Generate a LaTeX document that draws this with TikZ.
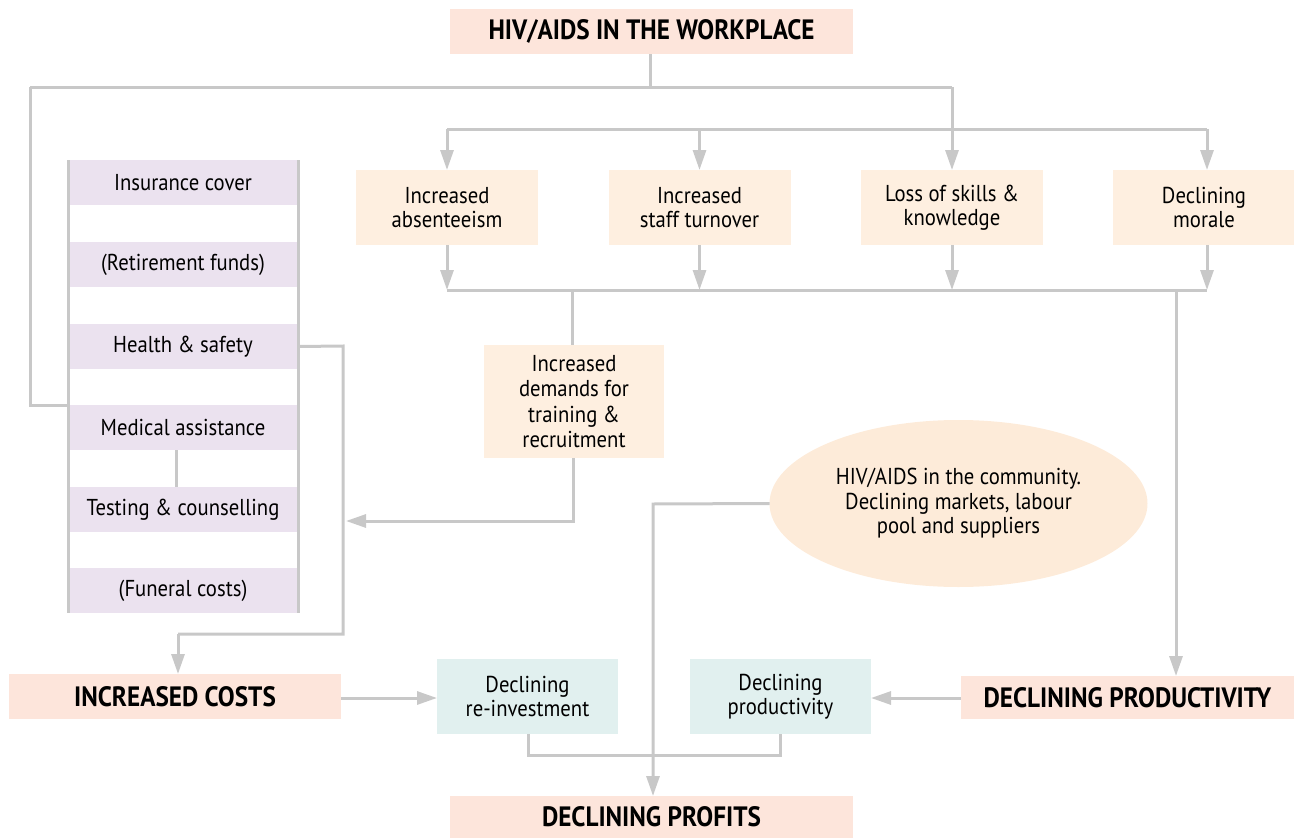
\documentclass[tikz,border=0pt]{standalone}
\usepackage{fontspec}
\setmainfont{PT Sans}[FakeStretch=0.9]
\usetikzlibrary{arrows.meta,shapes.geometric}
\definecolor{ttl}{HTML}{FDE5DB}
\definecolor{org}{HTML}{FEEFE0}
\definecolor{pur}{HTML}{EBE2EF}
\definecolor{teal}{HTML}{E1F0EF}
\definecolor{ell}{HTML}{FDEBD9}
\definecolor{ln}{HTML}{C8C8C8}
\tikzset{
  every node/.style={inner sep=0pt, outer sep=0pt, align=center},
  body/.style={font=\fontsize{23}{24.5}\selectfont},
  titlebox/.style={fill=ttl, font=\fontsize{28}{30}\selectfont\bfseries},
  orgbox/.style={body, fill=org, minimum width=182pt, minimum height=75pt},
  purbox/.style={body, fill=pur, minimum width=230pt, minimum height=45pt},
  tealbox/.style={body, fill=teal, minimum width=181pt, minimum height=75pt},
  conn/.style={draw=ln, line width=3pt},
  arr/.style={conn, -{Triangle[length=20pt,width=13pt]}},
}
\begin{document}
\begin{tikzpicture}[x=1pt,y=-1pt]
\useasboundingbox (0,0) rectangle (1294,838);
% nodes
\node[titlebox, minimum width=403pt, minimum height=45pt] (top) at (651.5,31.5) {HIV/AIDS IN THE WORKPLACE};
\node[orgbox] (abs) at (447,207.5) {Increased\\absenteeism};
\node[orgbox] (turn) at (699.5,207.5) {Increased\\staff turnover};
\node[orgbox] (loss) at (952,207.5) {Loss of skills \&\\knowledge};
\node[orgbox] (mor) at (1204,207.5) {Declining\\morale};
\node[orgbox, minimum width=180pt, minimum height=113pt, font=\fontsize{23}{25.3}\selectfont] (dem) at (574,401.5) {Increased\\demands for\\training \&\\recruitment};
\node[purbox] (ins) at (183,182.5) {Insurance cover};
\node[purbox] (ret) at (183,264.5) {(Retirement funds)};
\node[purbox] (hs) at (183,346.5) {Health \& safety};
\node[purbox] (med) at (183,427.5) {Medical assistance};
\node[purbox] (test) at (183,509.5) {Testing \& counselling};
\node[purbox] (fun) at (183,590.5) {(Funeral costs)};
\node[ellipse, fill=ell, minimum width=378pt, minimum height=167pt, body] (eli) at (958.5,503.5) {HIV/AIDS in the community.\\Declining markets, labour\\pool and suppliers};
\node[titlebox, minimum width=332pt, minimum height=45pt] (cost) at (175,696.5) {INCREASED COSTS};
\node[tealbox] (reinv) at (527.5,696.5) {Declining\\re-investment};
\node[tealbox] (prod) at (780.5,696.5) {Declining\\productivity};
\node[titlebox, minimum width=333pt, minimum height=43pt] (bigprod) at (1127.5,697.5) {DECLINING PRODUCTIVITY};
\node[titlebox, minimum width=403pt, minimum height=42pt] (profit) at (651.5,817) {DECLINING PROFITS};
% column edges
\draw[ln, line width=3pt] (ins.north west) -- (fun.south west);
\draw[ln, line width=3pt] (ins.north east) -- (fun.south east);
% coordinates
\coordinate (j1) at (650,87);
\coordinate (jl) at (30,87);
\coordinate (jr) at (952,87);
\coordinate (ja) at (447,129);
\coordinate (jm) at (1207,129);
\coordinate (ba) at (447,290);
\coordinate (bm) at (1207,290);
\coordinate (bd) at (572,290);
\coordinate (bp) at (1176,290);
\coordinate (hsr) at (343,346);
\coordinate (hsb) at (343,634);
\coordinate (hsl) at (178,634);
\coordinate (dl) at (573,521);
\coordinate (el) at (653,504);
\coordinate (rb) at (528,755);
\coordinate (pb) at (780,755);
% connectors
\draw[conn] (top.south -| j1) -- (j1);
\draw[conn] (jl) -- (jr);
\draw[conn] (jl) -- (30,405) -- (med.north west);
\draw[arr] (jr) -- (loss.north);
\draw[conn] (ja) -- (jm);
\draw[arr] (ja) -- (abs.north);
\draw[arr] (turn.north |- ja) -- (turn.north);
\draw[arr] (jm) -- (jm |- mor.north);
\draw[arr] (abs.south) -- (ba);
\draw[arr] (turn.south) -- (turn.south |- ba);
\draw[arr] (loss.south) -- (loss.south |- ba);
\draw[arr] (jm |- mor.south) -- (bm);
\draw[conn] (ba) -- (bm);
\draw[conn] (bd) -- (bd |- dem.north);
\draw[arr] (bp) -- (bp |- bigprod.north);
\draw[arr] (dem.south -| dl) -- (dl) -- (346,521);
\draw[conn] (hs.east) -- (hsr) -- (hsb) -- (hsl);
\draw[arr] (hsl) -- (hsl |- cost.north);
\draw[conn] (176,450) -- (176,487);
\draw[arr] (cost.east |- 0,698) -- (reinv.west |- 0,698);
\draw[arr] (bigprod.west |- 0,698) -- (prod.east |- 0,698);
\draw[conn] (reinv.south -| rb) -- (rb) -- (pb) -- (prod.south -| pb);
\draw[arr] (eli.west) -- (el) -- (el |- profit.north);
\end{tikzpicture}
\end{document}
